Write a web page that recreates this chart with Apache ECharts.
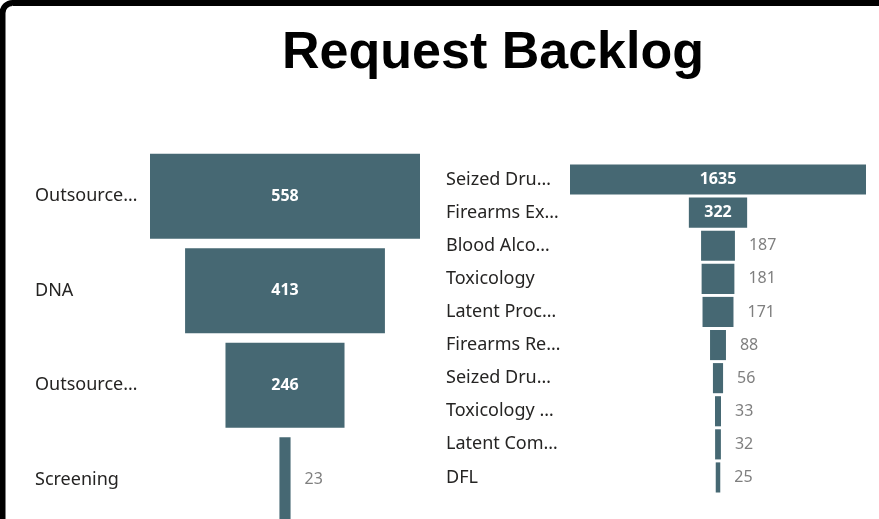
<!DOCTYPE html>
<html>
<head>
<meta charset="utf-8">
<script src="https://cdn.jsdelivr.net/npm/echarts@6/dist/echarts.min.js"></script>
<style>
  html, body { margin: 0; padding: 0; background: #fff; }
  #chart { width: 879px; height: 519px; }
</style>
</head>
<body>
<div id="chart"></div>
<script>
// left funnel
const leftCategories = ['Outsource…', 'DNA', 'Outsource…', 'Screening'];
const leftValues = [558, 413, 246, 23];
// right funnel
const rightCategories = ['Seized Dru…', 'Firearms Ex…', 'Blood Alco…', 'Toxicology', 'Latent Proc…',
    'Firearms Re…', 'Seized Dru…', 'Toxicology …', 'Latent Com…', 'DFL'];
const rightValues = [1635, 322, 187, 181, 171, 88, 56, 33, 32, 25];

const barColor = '#466873';
const font = 'Noto Sans';

// helper: transparent offset so bars are centered like a funnel
function offsets(values) {
    let max = Math.max(...values);
    return values.map(v => (max - v) / 2);
}

// inside label when wide enough, otherwise gray to the right
function valueData(values, minInside) {
    return values.map(v => {
        if (v >= minInside) {
            return {
                value: v,
                label: { position: 'inside', color: '#fff', fontWeight: 'bold', fontSize: 16 }
            };
        }
        return {
            value: v,
            label: { position: 'right', distance: 14, color: '#7f7f7f', fontSize: 16 }
        };
    });
}

let myChart = echarts.init(document.getElementById('chart'), null, { renderer: 'canvas' });

let options = {
    animation: false,
    backgroundColor: '#fff',
    title: {
        text: 'Request Backlog',
        left: 488,
        textAlign: 'center',
        top: 23,
        textStyle: { fontFamily: 'Liberation Sans', fontWeight: 'bold', fontSize: 52, color: '#000' }
    },
    graphic: [{
        type: 'rect',
        shape: { x: 2.5, y: 3, width: 1000, height: 1000, r: 10 },
        style: { fill: 'none', stroke: '#000', lineWidth: 6 },
        z: 100
    }],
    grid: [
        { left: 150, width: 270, top: 149, height: 378, outerBoundsMode: 'none' },
        { left: 570, width: 296, top: 163, height: 331, outerBoundsMode: 'none' }
    ],
    xAxis: [
        { gridIndex: 0, type: 'value', min: 0, max: Math.max(...leftValues), show: false },
        { gridIndex: 1, type: 'value', min: 0, max: Math.max(...rightValues), show: false }
    ],
    yAxis: [
        {
            gridIndex: 0, type: 'category', data: leftCategories, inverse: true,
            axisLine: { show: false }, axisTick: { show: false },
            axisLabel: {
                align: 'left', margin: 115, color: '#252423', fontSize: 18, fontFamily: font,
                padding: [5, 0, 0, 0]
            }
        },
        {
            gridIndex: 1, type: 'category', data: rightCategories, inverse: true,
            axisLine: { show: false }, axisTick: { show: false },
            axisLabel: { align: 'left', margin: 124, color: '#252423', fontSize: 18, fontFamily: font }
        }
    ],
    series: [
        {
            type: 'bar', xAxisIndex: 0, yAxisIndex: 0, stack: 'l',
            data: offsets(leftValues),
            itemStyle: { color: 'transparent' },
            barCategoryGap: '10%', silent: true
        },
        {
            type: 'bar', xAxisIndex: 0, yAxisIndex: 0, stack: 'l',
            data: valueData(leftValues, 100),
            itemStyle: { color: barColor },
            barCategoryGap: '10%',
            label: { show: true, fontFamily: font }
        },
        {
            type: 'bar', xAxisIndex: 1, yAxisIndex: 1, stack: 'r',
            data: offsets(rightValues),
            itemStyle: { color: 'transparent' },
            barCategoryGap: '9%', silent: true
        },
        {
            type: 'bar', xAxisIndex: 1, yAxisIndex: 1, stack: 'r',
            data: valueData(rightValues, 300),
            itemStyle: { color: barColor },
            barCategoryGap: '9%',
            label: { show: true, fontFamily: font }
        }
    ]
};
myChart.setOption(options);
</script>
</body>
</html>
